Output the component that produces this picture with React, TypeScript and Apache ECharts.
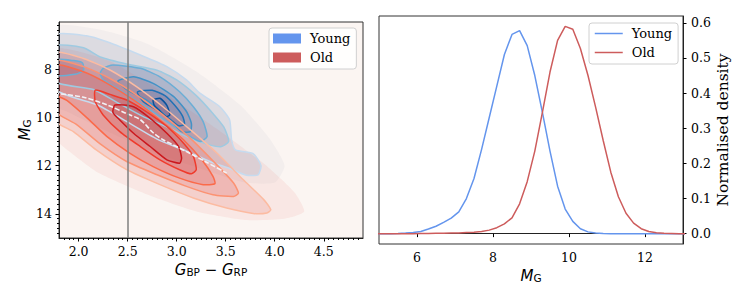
import React, { useEffect, useRef } from "react";
import * as echarts from "echarts";

// ---------- right panel: normalised density of M_G ----------
const DENS_X = [4.9, 5.1, 5.3, 5.5, 5.7, 5.9, 6.1, 6.3, 6.5, 6.7, 6.9, 7.1, 7.3, 7.5, 7.7, 7.9, 8.1, 8.3, 8.5, 8.7, 8.9, 9.1, 9.3, 9.5, 9.7, 9.9, 10.1, 10.3, 10.5, 10.7, 10.9, 11.1, 11.3, 11.5, 11.7, 11.9, 12.1, 12.3, 12.5, 12.7, 12.9, 13.1];
const YOUNG_DENS = [0, 0, 0, 0.0005, 0.0015, 0.003, 0.006, 0.013, 0.021, 0.032, 0.044, 0.062, 0.1, 0.157, 0.24, 0.33, 0.42, 0.51, 0.567, 0.578, 0.535, 0.45, 0.345, 0.235, 0.135, 0.07, 0.035, 0.014, 0.005, 0.0015, 0.0005, 0, 0, 0, 0, 0, 0, 0, 0, 0, 0, 0];
const OLD_DENS = [0, 0, 0, 0, 0, 0, 0.0003, 0.0005, 0.0008, 0.001, 0.0015, 0.002, 0.003, 0.004, 0.006, 0.01, 0.017, 0.028, 0.045, 0.085, 0.148, 0.235, 0.345, 0.46, 0.55, 0.59, 0.582, 0.527, 0.45, 0.36, 0.265, 0.175, 0.105, 0.058, 0.03, 0.014, 0.006, 0.0025, 0.001, 0.0005, 0, 0];
const DENS_X_TICKS = [6, 8, 10, 12];
const DENS_Y_TICKS = [0, 0.1, 0.2, 0.3, 0.4, 0.5, 0.6];

// ---------- left panel: colour-magnitude density contours ----------
const CMD_X_TICKS = [2.0, 2.5, 3.0, 3.5, 4.0, 4.5];
const CMD_Y_TICKS = [8, 10, 12, 14];
const COLOUR_CUT = 2.5;

const YOUNG_HALO = [[1.75, 6.25], [2.2, 6.35], [2.7, 6.95], [3.2, 8.1], [3.65, 9.5], [3.95, 10.9], [4.1, 12.0], [4.0, 12.7], [3.7, 12.7], [3.3, 12.2], [2.8, 11.5], [2.3, 10.6], [1.9, 9.8], [1.75, 9.5]];
const YOUNG_C5 = [[1.75, 6.6], [2.08, 6.62], [2.29, 6.87], [2.63, 7.42], [2.9, 7.9], [3.1, 8.45], [3.24, 9.01], [3.44, 9.56], [3.54, 10.11], [3.56, 10.93], [3.6, 11.35], [3.78, 11.5], [3.86, 12.0], [3.83, 12.38], [3.71, 12.4], [3.54, 12.12], [3.35, 11.85], [3.1, 11.4], [2.8, 10.9], [2.5, 10.2], [2.2, 9.5], [1.75, 8.8]];
const YOUNG_C4 = [[1.75, 7.05], [2.05, 7.12], [2.22, 7.5], [2.5, 7.8], [2.8, 8.05], [3.0, 8.45], [3.2, 9.1], [3.35, 9.75], [3.48, 10.4], [3.53, 11.0], [3.45, 11.22], [3.3, 11.1], [3.1, 10.8], [2.9, 10.4], [2.65, 9.95], [2.4, 9.4], [2.15, 8.85], [1.75, 8.5]];
const YOUNG_C3 = [[2.22, 8.18], [2.25, 7.97], [2.35, 7.83], [2.63, 7.97], [2.83, 8.32], [3.03, 8.94], [3.17, 9.56], [3.27, 10.18], [3.31, 10.8], [3.24, 11.0], [3.14, 10.8], [3.0, 10.45], [2.83, 9.97], [2.63, 9.42], [2.42, 8.87], [2.25, 8.45]];
const YOUNG_C3_EDGE = [[1.75, 7.62], [1.95, 7.65], [2.04, 7.75], [2.05, 8.05], [1.98, 8.2], [1.75, 8.25]];
const YOUNG_C2 = [[2.4, 8.5], [2.56, 8.32], [2.76, 8.59], [2.97, 9.14], [3.1, 9.76], [3.15, 10.25], [3.14, 10.59], [3.05, 10.59], [2.97, 10.25], [2.86, 9.83], [2.69, 9.28], [2.49, 8.85]];
const YOUNG_C1 = [[2.6, 8.95], [2.75, 8.88], [2.88, 9.1], [2.98, 9.5], [3.06, 9.95], [3.08, 10.3], [3.02, 10.35], [2.94, 10.1], [2.82, 9.75], [2.66, 9.35]];
const YOUNG_C0 = [[2.76, 9.28], [2.83, 9.21], [2.9, 9.5], [2.93, 9.9], [2.89, 9.97], [2.82, 9.7], [2.77, 9.49]];

const OLD_HALO = [[1.75, 7.2], [2.3, 7.65], [2.85, 8.95], [3.4, 10.45], [3.9, 11.95], [4.2, 13.1], [4.3, 13.9], [4.1, 14.2], [3.7, 14.25], [3.2, 13.9], [2.7, 13.2], [2.2, 12.3], [1.9, 11.4], [1.75, 10.8]];
const OLD_C5 = [[1.75, 7.33], [2.05, 7.56], [2.32, 8.04], [2.59, 8.73], [2.86, 9.56], [3.14, 10.52], [3.41, 11.48], [3.68, 12.59], [3.89, 13.42], [3.96, 13.83], [3.92, 13.96], [3.78, 13.98], [3.51, 13.76], [3.17, 13.34], [2.83, 12.79], [2.49, 12.17], [2.18, 11.35], [1.95, 10.6], [1.75, 10.1]];
const OLD_C4 = [[1.75, 7.66], [2.05, 7.9], [2.32, 8.39], [2.59, 9.07], [2.86, 9.9], [3.14, 10.87], [3.41, 11.97], [3.58, 12.72], [3.63, 13.14], [3.58, 13.28], [3.37, 13.21], [3.1, 12.86], [2.8, 12.38], [2.49, 11.83], [2.22, 11.1], [1.98, 10.3], [1.75, 9.7]];
const OLD_C3 = [[1.75, 7.83], [2.05, 8.11], [2.29, 8.59], [2.56, 9.28], [2.83, 10.11], [3.07, 10.93], [3.27, 11.83], [3.37, 12.45], [3.39, 12.75], [3.27, 12.79], [3.03, 12.52], [2.76, 12.04], [2.52, 11.48], [2.29, 10.8], [2.08, 10.0], [1.88, 9.3], [1.75, 9.0]];
const OLD_C2 = [[2.17, 8.87], [2.32, 9.05], [2.49, 9.28], [2.69, 9.76], [2.9, 10.38], [3.07, 11.07], [3.17, 11.62], [3.2, 12.17], [3.15, 12.34], [3.03, 12.17], [2.83, 11.76], [2.63, 11.21], [2.42, 10.59], [2.25, 9.9], [2.17, 9.35]];
const OLD_C1 = [[2.37, 9.49], [2.56, 9.56], [2.73, 10.04], [2.9, 10.66], [3.02, 11.21], [3.05, 11.69], [3.03, 11.9], [2.9, 11.76], [2.73, 11.21], [2.56, 10.66], [2.42, 10.11], [2.35, 9.8]];

const PALE_LINE = [[1.75, 9.0], [2.04, 9.16], [2.3, 9.5], [2.49, 9.85], [2.63, 10.1], [2.76, 10.64], [2.86, 10.93], [2.93, 11.07], [3.1, 11.42], [3.3, 11.85], [3.51, 12.31]];

// styles (kept apart from the data)
const YOUNG_COLOR = "#6495ED";
const OLD_COLOR = "#CD5C5C";
const YOUNG_FILL_POLYS = [YOUNG_HALO, YOUNG_C5, YOUNG_C4, YOUNG_C3, YOUNG_C3_EDGE, YOUNG_C2, YOUNG_C1, YOUNG_C0];
const YOUNG_FILLS = ["rgba(60,90,140,0.045)", "rgba(55,85,140,0.12)", "rgba(50,80,140,0.13)", "rgba(45,75,140,0.14)", "rgba(45,75,140,0.14)", "rgba(40,70,140,0.14)", "rgba(35,65,140,0.14)", "rgba(30,60,140,0.14)"];
const YOUNG_LINE_POLYS = [YOUNG_C5, YOUNG_C4, YOUNG_C3, YOUNG_C3_EDGE, YOUNG_C2, YOUNG_C1, YOUNG_C0];
const YOUNG_STROKES = ["#c6dbef", "#9ecae1", "#6baed6", "#6baed6", "#4292c6", "#2171b5", "#08519c"];
const OLD_FILL_POLYS = [OLD_HALO, OLD_C5, OLD_C4, OLD_C3, OLD_C2, OLD_C1];
const OLD_FILLS = ["rgba(235,80,60,0.08)", "rgba(220,55,45,0.13)", "rgba(210,45,40,0.14)", "rgba(200,40,40,0.15)", "rgba(185,35,40,0.15)", "rgba(170,30,40,0.15)"];
const OLD_LINE_POLYS = [OLD_C5, OLD_C4, OLD_C3, OLD_C2, OLD_C1];
const OLD_STROKES = ["#fcbba1", "#fc9272", "#fb6a4a", "#ef3b2c", "#cb181d"];

function steps(a: number, b: number, s: number) {
  const out: number[] = [];
  const n = Math.round((b - a) / s);
  for (let i = 0; i <= n; i++) out.push(+(a + i * s).toFixed(3));
  return out;
}

const SERIF = "DejaVu Serif";
const tickLabel = { fontFamily: SERIF, fontSize: 12.5, color: "#000" };
const rich = {
  i: { fontFamily: "DejaVu Sans", fontStyle: "italic", fontSize: 15, color: "#000", lineHeight: 20, verticalAlign: "bottom" },
  s: { fontFamily: "DejaVu Sans", fontSize: 10.5, color: "#000", lineHeight: 13, verticalAlign: "bottom" },
  t: { fontFamily: "DejaVu Sans", fontSize: 15, color: "#000", lineHeight: 20, verticalAlign: "bottom" },
};

function polyRenderer(polys: number[][][], fills: string[] | null, strokes: string[] | null, lw: number) {
  return (params: any, api: any) => {
    const i = params.dataIndex;
    const pts = polys[i].map((p) => api.coord(p));
    const cs = params.coordSys;
    return {
      type: "group",
      silent: true,
      clipPath: { type: "rect", shape: { x: cs.x, y: cs.y, width: cs.width, height: cs.height } },
      children: [
        {
          type: "polygon",
          shape: { points: pts, smooth: 0.2 },
          style: { fill: fills ? fills[i] : "none", stroke: strokes ? strokes[i] : "none", lineWidth: lw },
        },
      ],
    };
  };
}

export default function App() {
  const ref = useRef<HTMLDivElement>(null);
  useEffect(() => {
    if (!ref.current) return;
    const chart = echarts.init(ref.current, null, { renderer: "svg" });
    const axisLine = { show: true, lineStyle: { color: "#222", width: 1 } };
    const option: any = {
      animation: false,
      backgroundColor: "#fff",
      grid: [
        { left: 59, top: 22, width: 304, height: 216, show: true, backgroundColor: "#fbf5f2", borderColor: "#333", borderWidth: 1 },
        { left: 379, top: 16, width: 304, height: 228, show: true, backgroundColor: "#fff", borderColor: "#333", borderWidth: 1 },
      ],
      xAxis: [
        {
          gridIndex: 0, type: "value", min: 1.8, max: 4.9, position: "bottom",
          axisLine, splitLine: { show: false },
          axisTick: { show: true, customValues: CMD_X_TICKS, length: 3.5, lineStyle: { color: "#000" } },
          axisLabel: { ...tickLabel, customValues: CMD_X_TICKS, margin: 7, formatter: (v: number) => v.toFixed(1) },
          name: "{i|G}{s|BP}{t| − }{i|G}{s|RP}", nameLocation: "middle", nameGap: 15,
          nameTextStyle: { rich },
        },
        {
          gridIndex: 0, type: "value", min: 1.8, max: 4.9, position: "bottom",
          axisLine: { show: false }, splitLine: { show: false }, axisLabel: { show: false },
          axisTick: { show: true, customValues: steps(1.85, 4.85, 0.05), length: 2, lineStyle: { color: "#000" } },
        },
        {
          gridIndex: 1, type: "value", min: 5, max: 13, position: "bottom",
          axisLine, splitLine: { show: false },
          axisTick: { show: true, customValues: DENS_X_TICKS, length: 3.5, lineStyle: { color: "#000" } },
          axisLabel: { ...tickLabel, customValues: DENS_X_TICKS, margin: 7 },
          name: "{i|M}{s|G}", nameLocation: "middle", nameGap: 15,
          nameTextStyle: { rich },
        },
      ],
      yAxis: [
        {
          gridIndex: 0, type: "value", min: 6.05, max: 15, inverse: true, position: "left",
          axisLine, splitLine: { show: false },
          axisTick: { show: true, customValues: CMD_Y_TICKS, length: 3.5, lineStyle: { color: "#000" } },
          axisLabel: { ...tickLabel, customValues: CMD_Y_TICKS, margin: 7 },
          name: "{i|M}{s|G}", nameLocation: "middle", nameGap: 22, nameRotate: 90,
          nameTextStyle: { rich },
        },
        {
          gridIndex: 0, type: "value", min: 6.05, max: 15, inverse: true, position: "left",
          axisLine: { show: false }, splitLine: { show: false }, axisLabel: { show: false },
          axisTick: { show: true, customValues: steps(6.2, 14.8, 0.2), length: 2, lineStyle: { color: "#000" } },
        },
        {
          gridIndex: 1, type: "value", min: -0.0295, max: 0.6195, position: "right",
          axisLine, splitLine: { show: false },
          axisTick: { show: true, customValues: DENS_Y_TICKS, length: 3.5, lineStyle: { color: "#000" } },
          axisLabel: { ...tickLabel, customValues: DENS_Y_TICKS, margin: 8, formatter: (v: number) => v.toFixed(1) },
          name: "Normalised density", nameLocation: "middle", nameGap: 30, nameRotate: 90,
          nameTextStyle: { fontFamily: SERIF, fontSize: 15.5, color: "#000" },
        },
      ],
      legend: [
        {
          left: 269, top: 28, orient: "vertical", itemWidth: 28, itemHeight: 10, itemGap: 6,
          padding: [4, 6, 5, 4], borderColor: "#d0d0d0", borderWidth: 1, borderRadius: 3,
          backgroundColor: "rgba(255,255,255,0.85)",
          textStyle: { fontFamily: SERIF, fontSize: 13, color: "#000", padding: [0, 0, 0, 4] },
          selectedMode: false,
          data: [
            { name: "Young", icon: "rect", itemStyle: { color: YOUNG_COLOR } },
            { name: "Old", icon: "rect", itemStyle: { color: OLD_COLOR } },
          ],
        },
        {
          left: 589, top: 23, orient: "vertical", itemWidth: 28, itemHeight: 10, itemGap: 6,
          padding: [4, 6, 5, 5], borderColor: "#d0d0d0", borderWidth: 1, borderRadius: 3,
          backgroundColor: "rgba(255,255,255,0.85)",
          textStyle: { fontFamily: SERIF, fontSize: 13, color: "#000", padding: [0, 0, 0, 4] },
          selectedMode: false,
          itemStyle: { opacity: 0 },
          data: [
            { name: "Young", itemStyle: { opacity: 0 }, lineStyle: { color: YOUNG_COLOR, width: 1.5 } },
            { name: "Old", itemStyle: { opacity: 0 }, lineStyle: { color: OLD_COLOR, width: 1.5 } },
          ],
        },
      ],
      series: [
        {
          name: "Young", type: "line", xAxisIndex: 2, yAxisIndex: 2, symbol: "none",
          lineStyle: { color: YOUNG_COLOR, width: 1.5 }, itemStyle: { color: YOUNG_COLOR },
          data: DENS_X.map((x, i) => [x, YOUNG_DENS[i]]), clip: true,
        },
        {
          name: "Old", type: "line", xAxisIndex: 2, yAxisIndex: 2, symbol: "none",
          lineStyle: { color: OLD_COLOR, width: 1.5 }, itemStyle: { color: OLD_COLOR },
          data: DENS_X.map((x, i) => [x, OLD_DENS[i]]), clip: true,
        },
        {
          name: "Young", type: "custom", coordinateSystem: "cartesian2d", xAxisIndex: 0, yAxisIndex: 0,
          renderItem: polyRenderer(YOUNG_FILL_POLYS, YOUNG_FILLS, null, 0),
          data: YOUNG_FILL_POLYS.map((p) => p[0]), silent: true,
        },
        {
          name: "Old", type: "custom", coordinateSystem: "cartesian2d", xAxisIndex: 0, yAxisIndex: 0,
          renderItem: polyRenderer(OLD_FILL_POLYS, OLD_FILLS, null, 0),
          data: OLD_FILL_POLYS.map((p) => p[0]), silent: true,
        },
        {
          name: "Young", type: "custom", coordinateSystem: "cartesian2d", xAxisIndex: 0, yAxisIndex: 0,
          renderItem: polyRenderer(YOUNG_LINE_POLYS, null, YOUNG_STROKES, 1.5),
          data: YOUNG_LINE_POLYS.map((p) => p[0]), silent: true,
        },
        {
          name: "Old", type: "custom", coordinateSystem: "cartesian2d", xAxisIndex: 0, yAxisIndex: 0,
          renderItem: polyRenderer(OLD_LINE_POLYS, null, OLD_STROKES, 1.5),
          data: OLD_LINE_POLYS.map((p) => p[0]), silent: true,
        },
        {
          name: "pale", type: "line", xAxisIndex: 0, yAxisIndex: 0, symbol: "none", smooth: 0.3,
          lineStyle: { color: "#f2f2f6", width: 1.6, type: [5, 2] },
          data: PALE_LINE, silent: true, clip: true,
          markLine: {
            silent: true, symbol: ["none", "none"], label: { show: false },
            lineStyle: { color: "#7f7f7f", width: 1.5, type: "solid" },
            data: [{ xAxis: COLOUR_CUT }],
          },
        },
      ],
    };
    chart.setOption(option);
    return () => chart.dispose();
  }, []);
  return <div ref={ref} style={{ position: "fixed", left: 0, top: 0, width: 747, height: 299 }} />;
}
